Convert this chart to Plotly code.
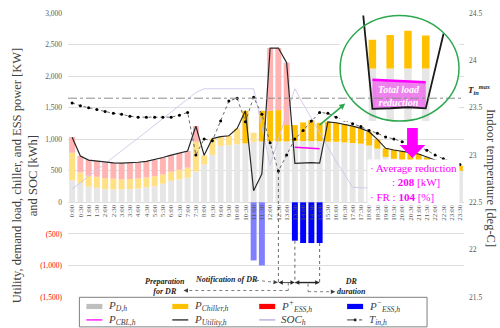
import plotly.graph_objects as go

# ---------------- data ----------------
times = ["0:00", "0:30", "1:00", "1:30", "2:00", "2:30", "3:00", "3:30", "4:00", "4:30",
         "5:00", "5:30", "6:00", "6:30", "7:00", "7:30", "8:00", "8:30", "9:00", "9:30",
         "10:00", "10:30", "11:00", "11:30", "12:00", "12:30", "13:00", "13:30", "14:00", "14:30",
         "15:00", "15:30", "16:00", "16:30", "17:00", "17:30", "18:00", "18:30", "19:00", "19:30",
         "20:00", "20:30", "21:00", "21:30", "22:00", "22:30", "23:00", "23:30"]

p_demand = [350, 305, 250, 230, 210, 205, 205, 210, 220, 240,
            255, 295, 340, 365, 390, 490, 600, 750, 895, 905,
            920, 935, 960, 965, 965, 965, 965, 970, 970, 970,
            970, 960, 960, 950, 940, 930, 900, 850, 720, 690,
            670, 650, 630, 610, 590, 570, 540, 500]

p_chiller = [435, 170, 170, 175, 175, 170, 160, 160, 160, 154,
             160, 146, 144, 150, 160, 470, 145, 260, 145, 150,
             251, 515, 143, 485, 485, 496, 259, 254, 296, 333,
             290, 316, 301, 290, 268, 241, 218, 148, 136, 139,
             143, 137, 136, 103, 81, 70, 70, 80]

p_ess_charge = [250, 260, 250, 250, 245, 250, 255, 255, 255, 256,
                260, 265, 263, 267, 263, 247, 0, 0, 0, 0,
                0, 0, 0, 0, 995, 984, 989, 0, 0, 0,
                0, 0, 0, 0, 0, 0, 0, 0, 0, 0,
                0, 0, 0, 0, 0, 0, 0, 0]

p_ess_discharge = [0, 0, 0, 0, 0, 0, 0, 0, 0, 0,
                   0, 0, 0, 0, 0, 0, 0, 0, 0, 0,
                   0, 0, -920, -1000, 0, 0, 0, -608, -645, -645,
                   -645, 0, 0, 0, 0, 0, 0, 0, 0, 0,
                   0, 0, 0, 0, 0, 0, 0, 0]

p_utility = [1030, 735, 670, 652, 631, 625, 620, 625, 635, 650,
             675, 710, 747, 782, 813, 1208, 745, 1010, 1040, 1055,
             1171, 1450, 183, 450, 2445, 2445, 2213, 616, 621, 630,
             620, 1276, 1261, 1240, 1208, 1171, 1118, 998, 856, 829,
             813, 787, 766, 713, 671, 640, 610, 580]

p_cbl = [None] * 27 + [872, 866, 858, 850] + [None] * 17

soc = [210, 310, 410, 510, 610, 715, 815, 920, 1020, 1120,
       1225, 1330, 1430, 1535, 1640, 1740, 1800, 1800, 1800, 1800,
       1800, 1800, 1800, 1200, 590, 1000, 1400, 1800, 1560, 1330,
       1100, 880, 650, 450, 240, 230, 230, 230, 230, 230,
       230, 230, 230, 230, 230, 230, 230, 230]

t_in = [23.55, 23.52, 23.50, 23.48, 23.46, 23.44, 23.43, 23.41, 23.40, 23.40,
        23.40, 23.40, 23.40, 23.42, 23.45, 23.00, 23.17, 23.15, 23.36, 23.57,
        23.60, 23.35, 23.61, 23.43, 23.13, 22.83, 23.00, 23.17, 23.26, 23.36,
        23.45, 23.44, 23.40, 23.37, 23.33, 23.30, 23.26, 23.23, 23.19, 23.17,
        23.14, 23.12, 23.09, 23.05, 23.00, 22.96, 22.93, 22.90]

t_in_max = 23.6
avg_reduction_kw = 208
fr_percent = 104

left_ticks = [-1500, -1000, -500, 0, 500, 1000, 1500, 2000, 2500, 3000]
right_ticks = [21.5, 22, 22.5, 23, 23.5, 24, 24.5]

notify_idx = 25            # 12:30
dr_start, dr_end = 27, 30  # 13:30 - 15:00

# ---------------- styles / geometry helpers ----------------
SERIF = "Liberation Serif"
idx = list(range(len(times)))
GRAY_BAR = "#e7e6e6"
PINK_BAR = "#ffb3b3"
chiller_colors = ["#ffc000" if (i == 21 or i >= 23) else "#ffe083" for i in idx]
ess_dis_colors = ["#0000ff" if i >= dr_start else "#7f7fff" for i in idx]

W, H = 500, 328
L, R, T, B = 67.6, 36, 12.5, 30.5
PW, PH = W - L - R, H - T - B
XR = [-0.5, len(times) - 0.5]
YR = [left_ticks[0], left_ticks[-1]]


def px_x(px):
    return (px - L) / PW


def px_y(py):
    return (H - B - py) / PH


def d2px(i, v):
    return (L + (i - XR[0]) / (XR[1] - XR[0]) * PW,
            T + (YR[1] - v) / (YR[1] - YR[0]) * PH)


def head_path(tip, tail, length=5.0, half=2.4):
    (tx, ty), (fx, fy) = tip, tail
    dx, dy = tx - fx, ty - fy
    n = (dx * dx + dy * dy) ** 0.5
    ux, uy = dx / n, dy / n
    bx, by = tx - ux * length, ty - uy * length
    p1 = (bx - uy * half, by + ux * half)
    p2 = (bx + uy * half, by - ux * half)
    pts = [(tx, ty), p1, p2]
    return "M " + " L ".join(f"{px_x(x):.5f} {px_y(y):.5f}" for x, y in pts) + " Z"


def fmt_left(v):
    if v < 0:
        return f"<span style='color:#ff0000'>({abs(v):,})</span>"
    return f"{v:,}"


fig = go.Figure()

BW = 0.72
fig.add_trace(go.Bar(x=idx, y=p_demand, width=BW, name="P_D,h",
                     marker=dict(color=GRAY_BAR, line_width=0)))
fig.add_trace(go.Bar(x=idx, y=p_chiller, width=BW, name="P_Chiller,h",
                     marker=dict(color=chiller_colors, line_width=0)))
fig.add_trace(go.Bar(x=idx, y=p_ess_charge, width=BW, name="P+_ESS,h",
                     marker=dict(color=PINK_BAR, line_width=0)))
fig.add_trace(go.Bar(x=idx, y=p_ess_discharge, width=BW, name="P-_ESS,h",
                     marker=dict(color=ess_dis_colors, line_width=0)))

fig.add_trace(go.Scatter(x=idx, y=soc, mode="lines", name="SOC_h",
                         line=dict(color="#cfc6ea", width=0.9)))
fig.add_trace(go.Scatter(x=idx, y=p_utility, mode="lines", name="P_Utility,h",
                         line=dict(color="#262626", width=1.2)))
fig.add_trace(go.Scatter(x=idx, y=p_cbl, mode="lines", name="P_CBL,h",
                         line=dict(color="#ff00ff", width=1.5)))
fig.add_trace(go.Scatter(x=idx, y=t_in, mode="lines+markers", yaxis="y2", name="T_in,h",
                         line=dict(color="#595959", width=0.9, dash="dot"),
                         marker=dict(color="#000000", size=3)))

# ---------------- inset (zoom of DR period) ----------------
ins = slice(dr_start - 1, dr_end + 2)
ins_bars = slice(dr_start, dr_end + 1)
fig.add_trace(go.Bar(x=idx[ins_bars], y=p_demand[ins_bars], width=0.42, xaxis="x3", yaxis="y3",
                     marker=dict(color=GRAY_BAR, line_width=0)))
fig.add_trace(go.Bar(x=idx[ins_bars], y=p_chiller[ins_bars], width=0.42, xaxis="x3", yaxis="y3",
                     marker=dict(color="#ffc000", line_width=0)))
fig.add_trace(go.Scatter(x=idx[ins_bars], y=p_utility[ins_bars], mode="lines", xaxis="x3", yaxis="y3",
                         line=dict(width=0, color="rgba(0,0,0,0)")))
fig.add_trace(go.Scatter(x=idx[ins_bars], y=p_cbl[ins_bars], mode="lines", xaxis="x3", yaxis="y3",
                         fill="tonexty", fillcolor="rgba(236,110,236,0.85)",
                         line=dict(width=2.5, color="#ff00ff")))
fig.add_trace(go.Scatter(x=idx[ins], y=p_utility[ins], mode="lines", xaxis="x3", yaxis="y3",
                         line=dict(width=1.8, color="#1a1a1a")))

# ---------------- layout ----------------
fig.update_layout(
    width=W, height=H,
    margin=dict(l=L, r=R, t=T, b=B, autoexpand=False),
    paper_bgcolor="white", plot_bgcolor="white",
    font=dict(family=SERIF, color="#595959"),
    barmode="relative",
    showlegend=False,
    xaxis=dict(range=XR, tickmode="array", tickvals=idx, ticktext=times,
               tickangle=-90, tickfont=dict(size=7, color="#595959"), showgrid=False,
               zeroline=False, showline=False, ticks="", anchor="free",
               position=(0 - YR[0]) / (YR[1] - YR[0])),
    yaxis=dict(range=YR, tickmode="array", tickvals=left_ticks,
               ticktext=[fmt_left(v) for v in left_ticks], tickfont=dict(size=7.5, color="#595959"),
               showgrid=True, gridcolor="#dedede", gridwidth=1, zeroline=False, ticks="",
               ticklabelstandoff=5),
    yaxis2=dict(range=[right_ticks[0], right_ticks[-1]], overlaying="y", side="right",
                tickmode="array", tickvals=right_ticks, tickfont=dict(size=7.5, color="#595959"),
                showgrid=False, zeroline=False, ticks="", ticklabelstandoff=4),
    xaxis3=dict(domain=[px_x(340), px_x(459)], range=[25.185, 31.87], anchor="y3", visible=False),
    yaxis3=dict(domain=[px_y(121), px_y(15)], range=[508, 1437], anchor="x3", visible=False),
)

shapes = []
ann = []
# T_in max line
shapes.append(dict(type="line", xref="paper", x0=0, x1=1, yref="y2", y0=t_in_max, y1=t_in_max,
                   line=dict(color="#8c8c8c", width=1, dash="dashdot")))
# inset circle
shapes.append(dict(type="circle", xref="paper", yref="paper", x0=px_x(340), x1=px_x(459),
                   y0=px_y(121), y1=px_y(15), line=dict(color="#2ea84f", width=1.5)))
# green pointer arrow (from DR bars to the inset)
g_tail, g_tip = d2px(29.98, 1224), d2px(33.1, 1566)
shapes.append(dict(type="line", xref="paper", yref="paper", x0=px_x(g_tail[0]), y0=px_y(g_tail[1]),
                   x1=px_x(g_tip[0] - 3), y1=px_y(g_tip[1] + 2.6), line=dict(color="#2ea84f", width=1.6)))
shapes.append(dict(type="path", xref="paper", yref="paper", path=head_path(g_tip, g_tail, 6, 3),
                   fillcolor="#2ea84f", line=dict(width=0)))
# magenta block arrow
shapes.append(dict(type="path", xref="x", yref="y",
                   path="M 40.6 1176 L 41.9 1176 L 41.9 908 L 42.8 908 L 41.25 703 L 39.7 908 L 40.6 908 Z",
                   fillcolor="#ff00ff", line=dict(width=0), layer="above"))
# vertical dotted markers of notification / DR window
DOT = dict(color="#404040", width=0.8, dash="dot")
shapes.append(dict(type="line", xref="x", yref="y", x0=notify_idx, x1=notify_idx, y0=497, y1=-1271, line=DOT))
shapes.append(dict(type="line", xref="x", yref="y", x0=dr_start, x1=dr_start,
                   y0=p_ess_discharge[dr_start], y1=-1271, line=DOT))
shapes.append(dict(type="line", xref="x", yref="y", x0=dr_end, x1=dr_end,
                   y0=p_ess_discharge[dr_end], y1=-1271, line=DOT))
# brackets
GDOT = dict(color="#7f7f7f", width=1, dash="dot")
shapes.append(dict(type="line", xref="x", yref="y", x0=26.2, x1=26.2, y0=-1271, y1=-1397, line=GDOT))
shapes.append(dict(type="line", xref="x", yref="y", x0=26.2, x1=14.0, y0=-1397, y1=-1397, line=GDOT))
shapes.append(dict(type="line", xref="x", yref="y", x0=28.6, x1=28.6, y0=-1290, y1=-1416, line=GDOT))
shapes.append(dict(type="line", xref="x", yref="y", x0=28.6, x1=31.4, y0=-1416, y1=-1416, line=GDOT))
shapes.append(dict(type="line", xref="x", yref="y", x0=22.3, x1=24.5, y0=-1235, y1=-1265, line=GDOT))
# arrow heads of the brackets
HEADC = "#404040"
for tip, tail in [((13.5, -1397), (15, -1397)), ((31.9, -1416), (30, -1416)),
                  ((24.95, -1271), (22.3, -1235))]:
    shapes.append(dict(type="path", xref="paper", yref="paper",
                       path=head_path(d2px(*tip), d2px(*tail), 4.5, 2.2),
                       fillcolor=HEADC, line=dict(width=0)))
# double arrows between notification / DR start / DR end
for a, b, wd in [(notify_idx + 0.05, dr_start - 0.05, 0.8), (dr_start + 0.05, dr_end - 0.05, 1.4)]:
    shapes.append(dict(type="line", xref="x", yref="y", x0=a, x1=b, y0=-1271, y1=-1271,
                       line=dict(color="#262626", width=wd)))
    shapes.append(dict(type="path", xref="paper", yref="paper",
                       path=head_path(d2px(a, -1271), d2px(b, -1271), 4, 2.2),
                       fillcolor="#262626", line=dict(width=0)))
    shapes.append(dict(type="path", xref="paper", yref="paper",
                       path=head_path(d2px(b, -1271), d2px(a, -1271), 4, 2.2),
                       fillcolor="#262626", line=dict(width=0)))

# ---------------- texts ----------------
ann.append(dict(xref="paper", yref="paper", x=px_x(24), y=px_y(175), textangle=-90,
                text="Utility, demand load, chiller, and ESS power [KW]<br>and SOC [kWh]",
                showarrow=False, font=dict(family=SERIF, size=12.5, color="#404040"),
                xanchor="center", yanchor="middle"))
ann.append(dict(xref="paper", yref="paper", x=px_x(491), y=px_y(178), textangle=90,
                text="Indoor temperature [deg-C]", showarrow=False,
                font=dict(family=SERIF, size=12.5, color="#404040"), xanchor="center", yanchor="middle"))
ann.append(dict(xref="paper", yref="y2", x=1.005, y=t_in_max, xanchor="left", yanchor="bottom",
                text="<b><i>T<sub>in</sub><sup>max</sup></i></b>", showarrow=False,
                font=dict(family=SERIF, size=9, color="#262626")))
ann.append(dict(xref="x", yref="y", x=35.75, y=316, xanchor="left", yanchor="middle", align="left",
                text=(f"· Average reduction<br>\u00a0\u00a0\u00a0\u00a0\u00a0\u00a0\u00a0\u00a0: "
                      f"<b>{avg_reduction_kw}</b> [kW]<br>· FR : <b>{fr_percent}</b> [%]"),
                showarrow=False, bgcolor="white", borderpad=2,
                font=dict(family=SERIF, size=11, color="#ff00ff")))
ann.append(dict(xref="x3", yref="y3", x=28.5, y=727, text="<b><i>Total load<br>reduction</i></b>",
                showarrow=False, font=dict(family=SERIF, size=10, color="white")))
BFONT = dict(family=SERIF, size=8, color="#262626")
ann.append(dict(xref="x", yref="y", x=18.7, y=-1224, text="<b><i>Notification of DR</i></b>",
                showarrow=False, font=BFONT))
ann.append(dict(xref="x", yref="y", x=11.3, y=-1330, text="<b><i>Preparation<br>for DR</i></b>",
                showarrow=False, font=BFONT))
ann.append(dict(xref="x", yref="y", x=33.9, y=-1334, text="<b><i>DR<br>duration</i></b>",
                showarrow=False, font=BFONT))

# ---------------- legend (drawn box, 4 columns x 2 rows) ----------------
shapes.append(dict(type="rect", xref="paper", yref="paper", x0=px_x(79), x1=px_x(427),
                   y0=px_y(327.5), y1=px_y(297.8), line=dict(color="#7f7f7f", width=1),
                   fillcolor="white", layer="above"))
col_x = [86, 172, 259, 347]
row_y = [307, 320.5]
legend_items = [
    ("bar", "#bfbfbf", "<i>P<sub>D,h</sub></i>"),
    ("bar", "#ffc000", "<i>P<sub>Chiller,h</sub></i>"),
    ("bar", "#ff0000", "<i>P<sup>+</sup><sub>ESS,h</sub></i>"),
    ("bar", "#0000ff", "<i>P<sup>−</sup><sub>ESS,h</sub></i>"),
    ("line", "#ff00ff", "<i>P<sub>CBL,h</sub></i>"),
    ("line", "#262626", "<i>P<sub>Utility,h</sub></i>"),
    ("line", "#b4a7d6", "<i>SOC<sub>h</sub></i>"),
    ("dot", "#262626", "<i>T<sub>in,h</sub></i>"),
]
for k, (kind, col, label) in enumerate(legend_items):
    cx, cy = col_x[k % 4], row_y[k // 4]
    if kind == "bar":
        shapes.append(dict(type="rect", xref="paper", yref="paper", x0=px_x(cx), x1=px_x(cx + 16),
                           y0=px_y(cy + 2.6), y1=px_y(cy - 2.6), fillcolor=col,
                           line=dict(width=0), layer="above"))
    else:
        shapes.append(dict(type="line", xref="paper", yref="paper", x0=px_x(cx), x1=px_x(cx + 16),
                           y0=px_y(cy), y1=px_y(cy), layer="above",
                           line=dict(color=col, width=1.3 if kind == "line" else 0.9,
                                     dash="solid" if kind == "line" else "dashdot")))
        if kind == "dot":
            shapes.append(dict(type="circle", xref="paper", yref="paper", x0=px_x(cx + 6.5),
                               x1=px_x(cx + 9.5), y0=px_y(cy + 1.5), y1=px_y(cy - 1.5),
                               fillcolor=col, line=dict(width=0), layer="above"))
    ann.append(dict(xref="paper", yref="paper", x=px_x(cx + 20), y=px_y(cy), xanchor="left",
                    yanchor="middle", text=label, showarrow=False,
                    font=dict(family=SERIF, size=11, color="#404040")))

fig.update_layout(shapes=shapes, annotations=ann)

fig.write_html("out.html", config={"displayModeBar": False},
               post_script="document.body.style.margin='0px';")
